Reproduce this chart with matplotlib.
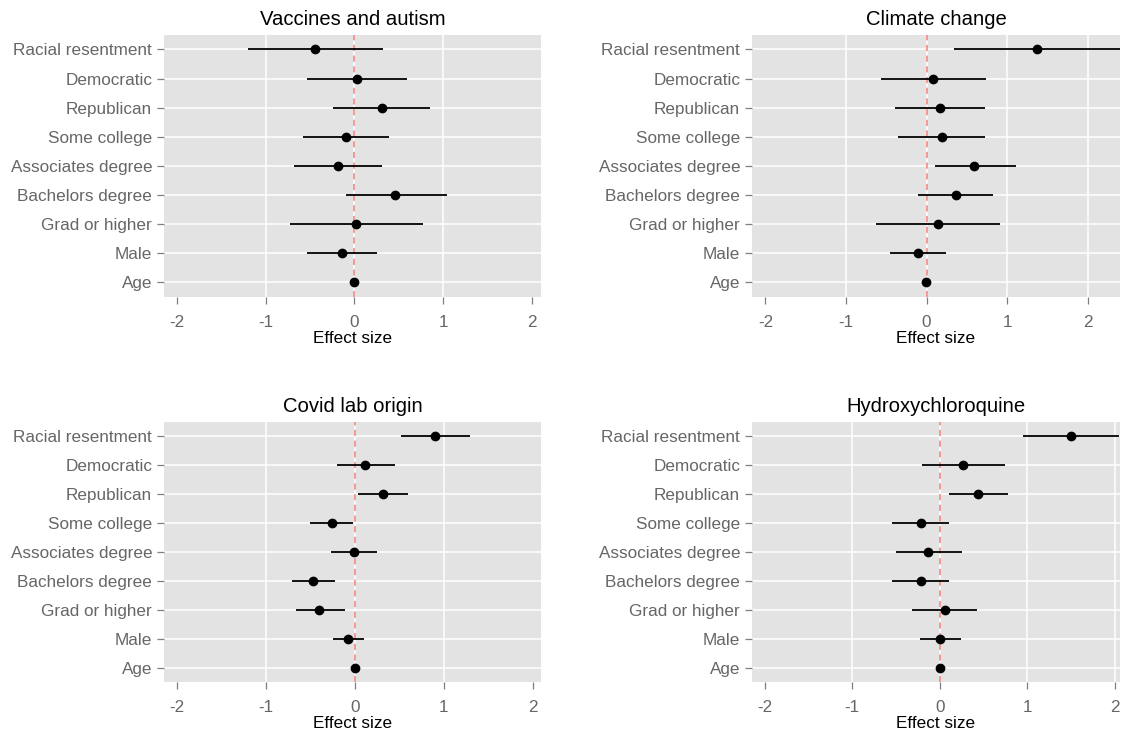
import matplotlib
matplotlib.use('Agg')
import matplotlib.pyplot as plt

plt.rcParams['font.family'] = ['Liberation Sans', 'DejaVu Sans']

# predictors, top to bottom
predictors = ['Racial resentment', 'Democratic', 'Republican', 'Some college',
              'Associates degree', 'Bachelors degree', 'Grad or higher', 'Male', 'Age']

titles = ['Vaccines and autism', 'Climate change', 'Covid lab origin', 'Hydroxychloroquine']

vax_est = [-0.44, 0.03, 0.31, -0.10, -0.19, 0.46, 0.02, -0.14, 0.00]
vax_lo = [-1.20, -0.53, -0.24, -0.58, -0.68, -0.10, -0.73, -0.54, -0.01]
vax_hi = [0.32, 0.59, 0.85, 0.39, 0.31, 1.05, 0.77, 0.26, 0.01]

climate_est = [1.37, 0.08, 0.17, 0.19, 0.59, 0.36, 0.14, -0.11, -0.01]
climate_lo = [0.34, -0.57, -0.39, -0.35, 0.10, -0.10, -0.63, -0.45, -0.02]
climate_hi = [2.45, 0.74, 0.72, 0.73, 1.11, 0.82, 0.91, 0.24, 0.00]

lab_est = [0.90, 0.11, 0.32, -0.26, -0.01, -0.47, -0.40, -0.08, 0.00]
lab_lo = [0.52, -0.20, 0.03, -0.50, -0.27, -0.71, -0.66, -0.25, -0.01]
lab_hi = [1.29, 0.45, 0.60, -0.02, 0.25, -0.22, -0.11, 0.10, 0.01]

hcq_est = [1.50, 0.26, 0.44, -0.21, -0.13, -0.22, 0.06, 0.00, 0.00]
hcq_lo = [0.95, -0.20, 0.11, -0.55, -0.50, -0.55, -0.32, -0.23, -0.01]
hcq_hi = [2.05, 0.74, 0.78, 0.11, 0.25, 0.11, 0.43, 0.24, 0.01]

xticks = [-2, -1, 0, 1, 2]

panels = [
    (vax_est, vax_lo, vax_hi, (-2.147, 2.105), [-1, 0, 1]),
    (climate_est, climate_lo, climate_hi, (-2.166, 2.40), [-1, 0, 1, 2]),
    (lab_est, lab_lo, lab_hi, (-2.147, 2.094), [-1, 0, 1]),
    (hcq_est, hcq_lo, hcq_hi, (-2.145, 2.057), [-1, 0, 1, 2]),
]

# axes boxes in figure fractions (left, bottom, width, height)
boxes = [
    (0.1462, 0.5954, 0.3360, 0.3570),
    (0.6702, 0.5954, 0.3280, 0.3570),
    (0.1462, 0.0704, 0.3360, 0.3550),
    (0.6702, 0.0704, 0.3280, 0.3550),
]

fig = plt.figure(figsize=(11.22, 7.34), dpi=100)
ypos = list(range(len(predictors), 0, -1))

for (est, lo, hi, xlim, vgrid), box, title in zip(panels, boxes, titles):
    ax = fig.add_axes(box)
    ax.set_facecolor('#E3E3E3')
    for s in ax.spines.values():
        s.set_visible(False)

    for y in ypos:
        ax.axhline(y, color='white', lw=1.1, zorder=1)
    for x in vgrid:
        ax.axvline(x, color='white', lw=1.1, zorder=1)
    ax.axvline(0, color='#F47C7C', lw=1.1, ls=(0, (4, 3)), zorder=2)

    ax.hlines(ypos, lo, hi, color='black', lw=1.3, zorder=3)
    ax.plot(est, ypos, 'o', color='black', ms=6, zorder=4)

    ax.set_xlim(*xlim)
    ax.set_ylim(0.5, len(predictors) + 0.5)
    ax.set_yticks(ypos)
    ax.set_yticklabels(predictors)
    ax.set_xticks(xticks)
    ax.set_xticklabels([str(t) for t in xticks])
    ax.tick_params(axis='both', colors='#7F7F7F', labelcolor='#666666',
                   labelsize=12.3, length=5, width=0.9)
    ax.tick_params(axis='y', pad=3.5)
    ax.tick_params(axis='x', pad=8)
    ax.set_xlabel('Effect size', fontsize=12.3, color='black', labelpad=0.8)
    ax.set_title(title, fontsize=14.6, color='black', pad=7)

fig.savefig('out.png', dpi=100)
